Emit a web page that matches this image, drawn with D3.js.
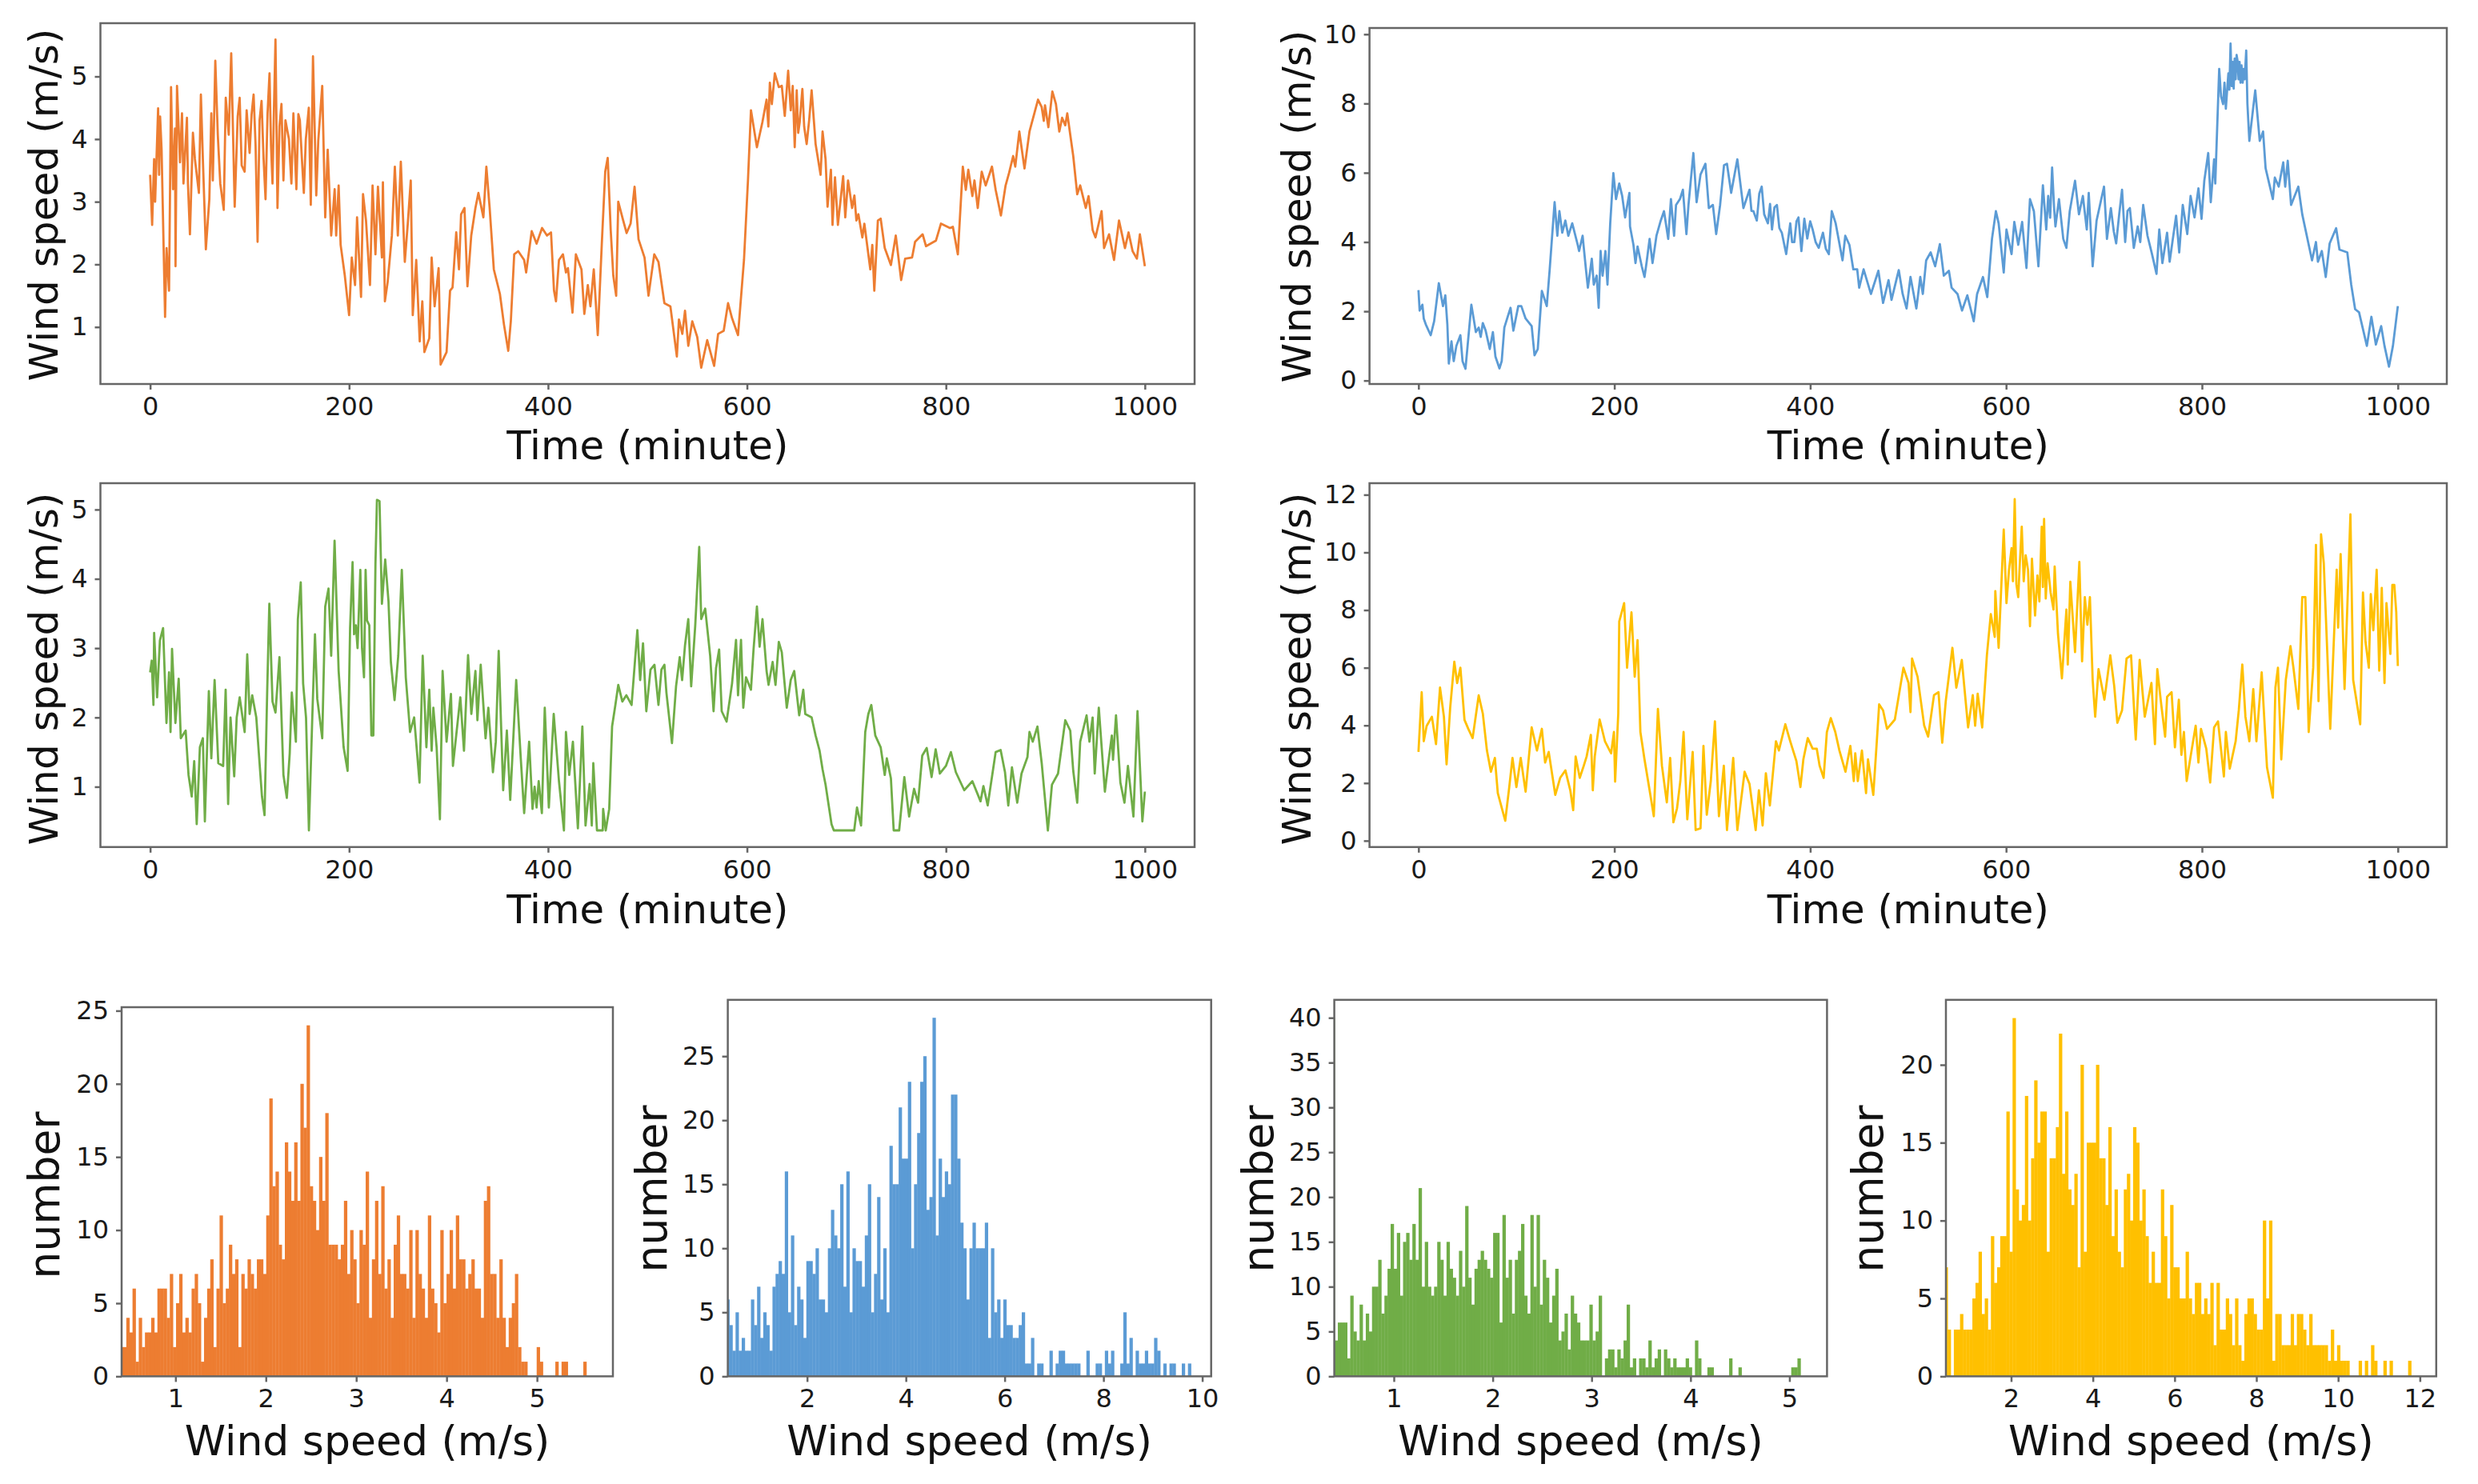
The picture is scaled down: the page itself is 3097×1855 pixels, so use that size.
<!DOCTYPE html>
<html>
<head>
<meta charset="utf-8">
<script src="https://cdn.jsdelivr.net/npm/d3@7"></script>
<style>
  html, body { margin: 0; background: #fff; }
  svg { display: block; font-family: "DejaVu Sans", sans-serif; }
</style>
</head>
<body>
<svg id="graph" width="3097" height="1855"></svg>
<script>
// Wind speed traces, [minute, m/s]
const orangeSpeed = [[0,3.43],[2,2.63],[4,3.68],[5,3.0],[8,4.49],[9,3.43],[10,4.36],[11.5,3.83],[15,1.16],[16.5,2.26],[19,1.58],[21,4.83],[23,3.2],[25,4.17],[25.5,1.97],[27,4.85],[30,3.63],[32,4.41],[33.5,3.29],[37,4.34],[38,3.29],[40,2.48],[43,4.1],[45,3.68],[49,3.14],[51,4.71],[53,3.68],[56,2.24],[59.5,3.04],[61.5,4.41],[63,3.34],[65.5,5.25],[68,4.07],[70.5,3.29],[74,2.87],[76,4.66],[79,4.07],[81.5,5.37],[85,2.92],[88,4.36],[90,4.66],[92,3.58],[95,3.48],[97,4.46],[100,3.78],[102,4.4],[104,4.71],[106,3.9],[108,2.36],[110,4.3],[112,4.61],[114,3.7],[116,3.04],[118,4.4],[120,5.05],[121.5,3.9],[123,3.29],[124.5,4.5],[126,5.59],[128,2.9],[130,4.2],[132,4.56],[134,3.34],[136,4.3],[137.5,4.17],[139.5,4.0],[142,3.29],[144,4.41],[145.5,3.8],[147,3.2],[149,4.4],[150.5,4.3],[152.5,3.7],[154.5,3.14],[156.5,4.0],[159.5,4.5],[161.5,2.95],[163.7,5.32],[167,3.1],[169,3.97],[173,4.85],[176,2.75],[178.5,3.83],[182,2.46],[185.5,3.2],[187,2.46],[189.5,3.26],[191.5,2.31],[195.7,1.82],[200,1.19],[202.7,2.11],[206,1.67],[208,2.75],[212,1.48],[214,3.12],[217,2.7],[221,1.67],[223.6,3.26],[226.5,2.16],[229,3.24],[233,2.11],[234,3.31],[236,1.41],[238.8,1.72],[243,2.46],[246,3.56],[249,2.46],[252,3.64],[256,2.04],[259,2.65],[262,3.34],[264,1.19],[267.5,2.07],[271,0.77],[273.6,1.41],[275.7,0.6],[280.6,0.82],[283,2.11],[286,1.33],[290,1.94],[292,0.4],[298,0.6],[301.5,1.58],[304,1.63],[307.7,2.51],[310.5,1.92],[312.6,2.8],[316,2.9],[319,1.65],[322.8,2.46],[327,2.9],[330,3.14],[335,2.75],[338,3.56],[341.3,2.9],[345.5,1.92],[351.6,1.53],[355.7,1.04],[360,0.62],[362.6,1.09],[366,2.16],[370,2.21],[376,2.07],[378,1.87],[383.6,2.53],[388.5,2.33],[394,2.58],[399,2.46],[403,2.51],[406,1.58],[408,1.41],[411,2.07],[415,2.16],[418,1.87],[420,1.94],[424.6,1.23],[428,2.16],[433.6,1.92],[436.5,1.21],[440,1.67],[442.6,1.33],[446,1.92],[450,0.87],[454,2.31],[457.5,3.48],[460,3.7],[463,2.55],[465.6,1.82],[468.5,1.5],[470.6,3.0],[474.7,2.75],[479,2.5],[483,2.65],[487,3.24],[491,2.4],[497,2.11],[501,1.5],[506.8,2.16],[511,2.04],[517,1.38],[523,1.33],[529.5,0.53],[531.6,1.12],[535,0.89],[537.7,1.26],[541,0.7],[545,1.09],[550,0.84],[554,0.35],[560,0.79],[567,0.38],[571,0.89],[576.6,0.94],[581,1.38],[585,1.14],[591,0.87],[597,2.07],[601,3.34],[604,4.46],[610,3.87],[615.5,4.27],[619.7,4.63],[621.5,4.2],[623,4.9],[625,4.56],[628,5.05],[632,4.83],[635,4.85],[638,4.37],[641.4,5.09],[644,4.46],[646,4.85],[648,3.87],[650,4.78],[651.5,4.1],[653,4.27],[655.7,4.8],[657.5,4.2],[660,3.92],[662.5,4.3],[665,4.78],[669,3.92],[674,3.43],[676,4.12],[679,3.68],[681,2.92],[684.4,3.51],[686,2.63],[688.5,3.39],[691.4,2.63],[696.7,3.41],[698.8,2.75],[701.6,3.34],[705.7,2.9],[708,3.1],[710,2.7],[712,2.8],[716,2.43],[718,2.65],[724,1.92],[726,2.31],[728,1.58],[731.6,2.7],[734.4,2.73],[738.5,2.26],[744.7,1.99],[749.6,2.46],[755,1.75],[759,2.09],[766,2.11],[769,2.36],[776.6,2.48],[780,2.29],[790,2.38],[795,2.65],[804,2.58],[807,2.6],[812,2.16],[817,3.56],[820,3.19],[822.5,3.51],[826.6,3.09],[828.7,3.34],[832,2.9],[836,3.48],[840,3.26],[846.3,3.56],[850,3.19],[855.3,2.78],[860,3.26],[863.5,3.46],[867.6,3.73],[869.7,3.56],[873.8,4.12],[879,3.53],[884,4.12],[892.6,4.63],[896.3,4.51],[898.4,4.29],[899.6,4.54],[903,4.19],[907,4.76],[910.6,4.56],[914,4.12],[916.8,4.34],[920,4.22],[922,4.41],[928,3.73],[932,3.12],[935,3.26],[940.6,2.9],[943.4,3.09],[947.5,2.55],[950.4,2.43],[956.5,2.85],[959,2.26],[964,2.48],[969,2.07],[974,2.7],[980,2.26],[983.6,2.51],[987.7,2.21],[992,2.09],[995,2.48],[1000,1.97]];
const blueSpeed = [[0,2.61],[1.2,2.02],[4,2.19],[5.4,1.79],[7.5,1.62],[12.5,1.31],[16,1.71],[20.8,2.81],[25,2.15],[27.4,2.46],[29.5,1.62],[31,0.49],[33.7,1.13],[36,0.56],[38.7,1.0],[42.8,1.31],[45,0.56],[48,0.34],[51,1.26],[54,2.19],[58.6,1.4],[61.5,1.53],[63.6,1.26],[65.7,1.66],[68.6,1.44],[72.8,0.91],[76,1.4],[78.6,0.69],[82.7,0.35],[85,0.56],[87.7,1.53],[91.5,1.88],[94,2.1],[96.9,1.44],[101.9,2.15],[105,2.15],[109.4,1.79],[115.6,1.57],[118.5,0.73],[121.8,0.91],[126,2.59],[131,2.15],[134,3.21],[139,5.15],[141.8,4.18],[143.9,4.89],[146.8,4.27],[150,4.62],[153,4.18],[157,4.54],[162.6,3.92],[164,3.74],[167.6,4.18],[171,3.21],[173,2.68],[177,3.52],[179,2.77],[182,3.03],[184,2.1],[186,3.74],[188,3.03],[190.9,3.74],[193,2.77],[195.8,4.54],[199,5.99],[201.7,5.24],[205,5.69],[208,5.33],[211,4.71],[215.4,5.42],[216,4.45],[219.5,3.92],[221.6,3.39],[223.7,3.87],[228,3.3],[230.8,2.99],[233,3.43],[236,4.09],[239,3.39],[243,4.18],[247.4,4.62],[250.7,4.89],[255,4.09],[257.8,5.24],[261,4.18],[263,5.07],[267,5.24],[270,5.51],[273.6,4.23],[275.7,5.07],[280.7,6.57],[284,5.15],[288,5.95],[293,6.26],[296.5,4.98],[300.6,5.07],[304,4.23],[308,5.07],[312,6.22],[315,6.26],[319.3,5.42],[325.6,6.39],[331.8,4.98],[338,5.51],[340,4.9],[342,4.89],[345.5,4.62],[348,5.4],[350.5,5.6],[353,4.8],[356.8,4.54],[359,5.1],[361,4.36],[363.5,5.0],[366,5.07],[368.5,4.4],[371,4.27],[375.5,3.65],[379.6,4.54],[381.5,4.0],[383.8,4.0],[386,4.6],[388,4.71],[391,3.74],[394,4.67],[397,4.1],[400,4.6],[402.5,4.36],[405.5,4.0],[408.7,3.83],[413,4.27],[416,3.8],[419,3.65],[422,4.89],[426,4.54],[433,3.47],[435.8,4.18],[440,3.92],[444,3.21],[448,3.21],[450,2.68],[454.5,3.21],[462,2.5],[469.6,3.17],[474.4,2.24],[480,2.9],[483,2.33],[490.4,3.19],[494.4,2.5],[498.4,2.08],[502.4,2.99],[508.4,2.08],[512.4,2.99],[515,2.5],[518.4,3.47],[523,3.7],[527.6,3.3],[532.4,3.94],[536.4,3.03],[541.6,3.17],[544.4,2.68],[550.4,2.5],[555,2.02],[560.4,2.46],[567,1.71],[570.4,2.5],[576.4,2.99],[580.8,2.41],[585.6,4.09],[589.6,4.89],[592.4,4.54],[597.6,3.12],[600.4,4.36],[605.6,3.65],[608.4,4.58],[612.4,3.92],[616.4,4.58],[620.8,3.25],[624.4,5.24],[628.4,4.89],[633,3.3],[637.6,5.64],[641,4.36],[643,5.33],[645,4.7],[647,6.15],[649,5.0],[650.4,4.45],[654,5.24],[658.4,4.09],[661.6,3.83],[665,4.89],[670.4,5.77],[674.4,4.8],[678.4,5.33],[682.4,4.36],[684.4,5.42],[688.4,3.3],[692.4,4.62],[700,5.6],[703,4.09],[707,4.98],[710,4.3],[712.4,3.96],[715.5,4.8],[718.4,5.51],[721.6,4.0],[724,4.9],[726.4,4.98],[730.4,3.83],[734.4,4.45],[737,4.0],[740,5.07],[744.4,4.18],[749,3.65],[753.6,3.08],[756.4,4.36],[759.6,3.39],[764.4,4.27],[767,3.43],[773.6,4.76],[776.8,3.7],[780.4,5.07],[785,4.23],[788.4,5.33],[792.4,4.71],[796.4,5.55],[799.6,4.67],[802.4,5.77],[806.4,6.57],[809,5.15],[812.4,6.39],[813.6,5.69],[817.6,9.0],[819.5,8.2],[821.6,7.98],[823,8.6],[824.4,7.85],[826,8.5],[827,8.87],[828,8.4],[829.2,9.73],[830.4,8.5],[831.4,9.2],[832.4,8.43],[833.4,9.3],[834.4,8.7],[835.4,9.4],[836.4,9.22],[837.4,8.7],[838.4,9.2],[839.4,8.6],[840.4,9.1],[841.6,8.6],[842.6,9.0],[843.6,8.7],[845.2,9.53],[846.4,8.0],[848.4,6.92],[854.4,8.38],[859,6.92],[862.4,7.19],[865,6.13],[872.4,5.24],[874.4,5.86],[878.4,5.6],[883,6.3],[885,5.6],[887.6,6.35],[891,5.07],[898.4,5.6],[902.4,4.8],[908.4,4.0],[912.4,3.47],[916.4,4.0],[918.4,3.43],[922.4,3.74],[926.4,2.99],[930.4,3.96],[937,4.4],[940.4,3.78],[948.4,3.7],[952.4,2.77],[956.4,2.06],[960.4,1.97],[968.4,1.0],[973,1.84],[977.6,1.04],[983,1.57],[986.4,1.0],[991,0.4],[995,1.0],[1000,2.15]];
const greenSpeed = [[0,2.65],[1.6,2.82],[3.3,2.18],[4,3.22],[7,2.29],[9.8,3.11],[13,3.29],[16.4,1.92],[19,2.65],[20.5,1.79],[22,2.99],[25.4,1.92],[28.7,2.56],[30.8,1.7],[35.7,1.81],[38.6,1.17],[41.8,0.86],[44.3,1.37],[46.8,0.46],[50,1.57],[53,1.7],[55,0.5],[59,2.38],[61.5,1.41],[64.8,2.54],[68.5,1.34],[73.4,1.3],[75.9,2.4],[78.4,0.75],[80.8,2.0],[84.5,1.15],[87,2.0],[90,2.29],[95,1.79],[97.6,2.91],[100,2.05],[102.6,2.32],[106.7,2.0],[110,1.34],[112.4,0.86],[115,0.59],[117.7,2.4],[119.8,3.64],[123,2.23],[126,2.07],[130,2.87],[134,1.17],[137.4,0.84],[140.3,1.48],[142.4,2.36],[146.5,1.65],[148.5,3.42],[151.4,3.95],[153.8,2.49],[156.7,2.0],[159.6,0.37],[163,2.0],[165.7,3.2],[168,2.27],[173,1.7],[176,3.6],[179.3,3.86],[182,2.89],[185.4,4.55],[189.5,2.67],[194.5,1.57],[198.5,1.23],[201,3.29],[203.5,4.24],[205,3.2],[206.8,3.33],[208.5,3.0],[211.3,4.13],[213,3.0],[215,2.58],[216.6,4.13],[218,3.4],[220.3,3.33],[222.4,1.74],[224.4,1.74],[226.5,4.21],[228,5.14],[230.6,5.12],[233,3.64],[236.3,4.28],[239.6,3.68],[242,2.8],[245.7,2.25],[249.4,2.89],[253,4.13],[257,2.58],[261.3,1.79],[265.4,2.0],[270.8,1.06],[274,2.89],[277.7,1.57],[280.6,2.4],[283,1.52],[284.7,2.14],[288,1.57],[291.3,0.53],[294,2.67],[298,1.65],[302.4,2.34],[304.4,1.3],[311.8,2.29],[315.5,1.52],[319.6,2.9],[322.9,2.05],[327,2.67],[329,1.96],[332.3,2.76],[337.2,1.7],[340,2.14],[344.6,1.21],[347.5,1.65],[350.4,2.96],[354.9,0.95],[358.6,1.81],[362,0.81],[368,2.54],[372.5,1.43],[376,0.62],[381,1.65],[384.4,0.68],[386.5,1.0],[388.5,0.7],[390.6,1.08],[393.8,0.62],[396.7,2.14],[400.8,0.7],[405.7,2.05],[411,1.08],[416,0.37],[418,1.79],[421.3,1.17],[425,1.65],[430,0.4],[434.5,1.87],[437.7,0.44],[441.8,1.04],[444,0.44],[445.5,1.34],[449.2,0.37],[455,0.37],[455.4,0.68],[458,0.37],[461.5,0.68],[464.4,1.87],[467.7,2.18],[470.6,2.47],[474.7,2.23],[478.8,2.32],[484,2.18],[489.8,3.26],[492.6,2.54],[495.5,3.07],[498.8,2.09],[503,2.69],[507,2.76],[511,2.18],[514,2.69],[517,2.76],[519,2.36],[524.6,1.63],[528.7,2.45],[532.4,2.87],[534.8,2.54],[537.7,3.04],[541,3.42],[543.9,2.45],[548,3.33],[552,4.46],[554,3.42],[558,3.57],[563,2.89],[566.4,2.09],[568.9,2.71],[572,2.98],[574.6,2.09],[579.5,1.94],[585,2.49],[589,3.12],[591,2.32],[594,3.12],[596.3,2.14],[599,2.58],[604,2.4],[606.6,2.98],[610,3.6],[612.7,3.02],[615.6,3.42],[619.7,2.67],[621.7,2.47],[625.8,2.8],[628.7,2.47],[632,3.09],[635,2.94],[640,2.14],[644,2.54],[647.5,2.67],[652.5,2.03],[656.6,2.4],[658.6,2.05],[665,2.0],[669,1.74],[673,1.52],[676,1.25],[679,1.03],[685,0.46],[687.3,0.37],[707.8,0.37],[710.6,0.7],[714.7,0.44],[718.9,1.79],[722,2.05],[725,2.18],[729,1.74],[734.4,1.57],[738.5,1.17],[740.6,1.41],[744.7,1.12],[747.5,0.37],[753,0.37],[758.2,1.14],[763,0.57],[768,0.97],[772,0.77],[776.2,1.45],[780.7,1.56],[785.6,1.14],[789.7,1.54],[793.9,1.19],[800,1.3],[805,1.5],[810,1.21],[818.4,0.95],[826.6,1.08],[834.8,0.79],[837.7,1.01],[842,0.73],[847,1.21],[850,1.5],[855,1.53],[859.4,1.21],[862.7,0.73],[866.4,1.28],[871.7,0.77],[876,1.19],[882,1.43],[884,1.79],[887.3,1.65],[892,1.87],[896.3,1.34],[902.5,0.37],[906.6,1.03],[912.7,1.19],[920,1.96],[925,1.81],[928,1.23],[932,0.77],[935,1.65],[941.4,2.03],[944.3,1.65],[947.5,2.0],[949.6,1.19],[953.7,2.14],[959.8,0.93],[964,1.43],[966.8,1.74],[968,1.39],[971,2.03],[975.4,1.06],[979.5,0.77],[983,1.3],[988.5,0.57],[992.6,2.09],[997.5,0.5],[1000,0.93]];
const yellowSpeed = [[0,3.08],[3.3,5.15],[5.4,3.45],[8.3,3.98],[13.7,4.3],[17.9,3.35],[22,5.31],[26,4.3],[28.7,2.65],[32.4,4.62],[36.6,6.21],[39.5,5.47],[42.8,6.0],[47,4.19],[51,3.87],[55.3,3.56],[61.5,5.04],[65.7,4.41],[69.9,3.13],[74,2.39],[78,2.87],[81,1.65],[88.6,0.69],[92.7,1.86],[96,2.87],[100,1.86],[104.4,2.87],[109.4,1.7],[115.6,3.93],[121,3.13],[126,3.88],[129.3,2.71],[133,3.08],[139.7,1.59],[144.7,2.18],[150,2.44],[155,1.75],[158,1.06],[160.5,2.92],[164.7,2.18],[168.8,2.6],[171.7,2.92],[176,3.67],[178,1.75],[180,2.92],[185,4.2],[190.4,3.45],[196.7,3.03],[199.6,3.77],[200.8,2.05],[204,4.41],[205,7.6],[210,8.24],[213,6.0],[217.5,7.92],[220.8,5.69],[223.7,6.96],[226.6,3.77],[230.8,2.82],[236,1.75],[240.3,0.85],[244.5,4.57],[248.6,2.6],[253.6,1.33],[257,2.87],[260.3,0.64],[264,1.12],[267.4,2.07],[270.7,3.77],[274.5,0.74],[280,3.08],[283,0.37],[288,0.43],[291,3.29],[294.4,0.9],[298.5,2.07],[302.7,4.14],[306.8,0.85],[311.8,2.6],[315,0.37],[321.4,2.87],[325.6,0.37],[333,2.39],[338,1.97],[344.3,0.37],[347.6,1.75],[351.4,0.53],[354.7,2.34],[358.8,1.22],[365,3.45],[368,3.13],[374.6,4.04],[379.6,3.45],[385.9,2.76],[390,1.86],[393,2.82],[397.5,3.56],[402.5,3.19],[406.7,3.19],[409.6,2.6],[413.7,2.18],[417,3.77],[421,4.25],[425.6,3.77],[429.8,3.13],[436,2.39],[441,3.29],[444.5,2.07],[446,3.03],[448.6,2.07],[452.8,3.13],[457,1.65],[459,2.82],[464.4,1.59],[468,3.45],[470.4,4.73],[474.4,4.52],[478.4,3.88],[486.4,4.2],[495.2,6.0],[500.4,5.47],[502.4,4.46],[504,6.32],[509.6,5.69],[516.4,3.99],[520.4,3.61],[526.4,5.05],[531,5.15],[534.8,3.4],[538.4,4.84],[545.2,6.69],[549.2,5.31],[554.8,6.27],[561.2,3.93],[566,5.05],[568.4,3.99],[571,5.1],[575.6,3.93],[580.4,6.43],[584.4,7.86],[588.4,7.07],[589,8.66],[592.4,6.69],[597.6,10.79],[600.4,8.24],[603,9.4],[605.6,10.15],[607,9.0],[608.8,11.85],[610.5,8.9],[612.4,8.45],[614,9.6],[616,10.89],[618,9.0],[620,9.9],[622.4,9.4],[624.4,7.44],[626.4,9.78],[629.6,7.81],[632,9.2],[634,8.3],[636.4,10.89],[637.6,8.8],[638.8,11.16],[640.5,8.4],[642.4,9.62],[645.5,8.6],[648.4,8.02],[649.6,9.51],[653,7.17],[657,5.63],[661.6,8.02],[663,6.11],[665.6,8.98],[670.4,6.54],[674.8,9.67],[677.6,6.22],[680.4,8.45],[683,7.49],[685.6,8.45],[688.4,5.58],[691,4.3],[694.4,5.95],[700.4,4.89],[706.4,6.43],[710.4,5.37],[713.6,4.09],[718.4,4.52],[723,6.32],[727.6,6.43],[732.4,3.51],[736.4,6.27],[741.6,4.3],[748.4,5.47],[752,3.35],[754.4,5.95],[758.4,4.73],[762.4,3.61],[764.4,4.99],[769,5.15],[772.4,3.24],[776.4,4.89],[779,2.98],[781.6,3.77],[784.4,2.07],[788.4,2.92],[793.6,3.99],[796.4,2.71],[799,3.88],[804.4,3.19],[808.4,2.02],[812.4,3.93],[816.4,4.14],[822.4,2.23],[824.4,3.77],[828.4,2.5],[834.4,3.45],[837.6,4.52],[841.2,6.11],[844.4,4.3],[848.4,3.45],[852.4,5.26],[855.6,3.45],[861,5.84],[866.4,2.55],[872.4,1.49],[875,5.31],[877.6,6.0],[881,2.82],[885.6,5.58],[890.4,6.75],[893.4,6.0],[898.4,4.57],[902.4,8.45],[905.6,8.45],[909,3.77],[913.6,6.0],[916.4,10.26],[919,4.84],[921.6,10.63],[924.4,9.62],[931,3.88],[937.6,9.4],[939,7.39],[941.6,9.94],[945.6,5.26],[951.6,11.32],[954.4,5.58],[961.6,4.04],[964.4,8.61],[967,6.9],[970.4,6.0],[972.4,8.55],[975,7.3],[978.4,9.4],[981,5.9],[983.6,8.77],[986.4,5.47],[988.4,8.24],[992.4,6.48],[994.4,8.87],[996.4,8.87],[998.4,7.92],[1000,6.06]];

// Histogram counts, one value per bin, left to right
const orangeCounts = [2,2,4,3,6,1,4,2,3,3,4,3,6,6,6,4,7,2,5,7,3,4,3,6,7,5,1,4,6,8,2,6,11,5,6,9,7,8,2,7,6,8,7,6,8,8,7,11,19,13,14,9,8,16,14,12,16,12,20,17,24,13,12,10,15,12,18,9,9,9,8,9,12,7,10,8,5,10,9,14,4,8,12,7,13,6,8,4,9,11,7,7,6,10,4,10,7,6,4,11,6,5,3,10,5,7,10,6,11,8,8,6,7,8,6,6,4,12,13,7,7,4,8,4,2,4,5,7,2,1,1,0,0,0,2,1,0,0,0,0,1,0,1,1,0,0,0,0,0,1];
const blueCounts = [6,4,2,5,2,3,2,2,6,4,7,3,5,4,2,7,8,9,8,16,5,11,4,7,6,3,9,9,8,10,6,6,5,10,13,11,10,15,7,16,5,10,9,9,7,11,15,5,8,14,6,10,5,18,15,15,21,17,17,23,10,15,19,23,25,13,14,28,11,17,14,16,15,22,22,17,12,10,6,10,12,10,10,10,12,3,10,5,6,3,6,4,4,3,3,4,5,1,1,3,0,1,1,0,0,2,0,1,2,2,1,1,1,1,1,0,0,2,0,0,1,1,0,2,1,2,0,0,1,5,1,3,0,2,1,1,2,1,1,3,2,0,1,0,1,1,0,0,1,0,1];
const greenCounts = [40,4,6,6,6,2,9,5,4,8,4,7,5,10,10,13,7,9,12,17,12,16,9,15,16,13,17,13,21,10,15,10,9,10,15,13,9,15,12,11,9,14,10,19,11,8,12,13,14,13,12,11,16,16,6,18,11,13,7,13,14,17,9,7,18,10,18,8,13,11,6,9,12,4,5,7,3,9,7,6,4,4,4,8,4,5,9,0,2,3,3,1,3,2,4,8,1,2,0,2,2,1,4,1,2,3,0,3,2,1,2,1,1,1,2,1,0,4,2,0,0,1,1,0,0,0,0,0,2,0,0,1,0,0,0,0,0,0,0,0,0,0,0,0,0,0,0,0,1,1,2];
const yellowCounts = [7,3,0,3,3,4,3,3,3,5,6,8,4,5,3,9,6,7,9,9,17,8,23,12,10,11,18,10,14,19,15,17,17,8,14,14,16,22,13,17,12,11,13,7,20,8,15,15,15,20,14,14,11,16,9,12,8,7,12,13,10,16,15,10,12,9,6,8,6,6,12,9,5,11,7,7,5,5,8,5,4,6,6,4,5,4,6,2,6,3,3,5,4,2,5,2,1,4,5,5,4,3,3,10,5,10,1,4,4,2,2,2,4,2,4,4,3,2,4,2,2,2,2,2,1,3,1,2,1,1,1,0,0,0,1,0,1,0,2,1,0,0,1,0,1,0,0,0,0,0,1];

// Tick labels
const timeTicks = [0, 200, 400, 600, 800, 1000];
const orangeSpeedTicks = [1, 2, 3, 4, 5];
const blueSpeedTicks = [0, 2, 4, 6, 8, 10];
const greenSpeedTicks = [1, 2, 3, 4, 5];
const yellowSpeedTicks = [0, 2, 4, 6, 8, 10, 12];
const orangeHistXTicks = [1, 2, 3, 4, 5];
const blueHistXTicks = [2, 4, 6, 8, 10];
const greenHistXTicks = [1, 2, 3, 4, 5];
const yellowHistXTicks = [2, 4, 6, 8, 10, 12];
const orangeHistYTicks = [0, 5, 10, 15, 20, 25];
const blueHistYTicks = [0, 5, 10, 15, 20, 25];
const greenHistYTicks = [0, 5, 10, 15, 20, 25, 30, 35, 40];
const yellowHistYTicks = [0, 5, 10, 15, 20];

const ORANGE = "#ED7D31", BLUE = "#5B9BD5", GREEN = "#70AD47", YELLOW = "#FFC000";
const FRAME = "#666";

const svg = d3.select("#graph");

/**
 * Axes box with frame, ticks and labels. Returns the scales.
 */
const drawAxes = (p) => {
  const x = d3.scaleLinear().domain(p.xDomain).range([p.left, p.right]);
  const y = d3.scaleLinear().domain(p.yDomain).range([p.bottom, p.top]);

  const xAxis = svg.append("g")
    .attr("transform", `translate(0, ${p.bottom})`)
    .call(d3.axisBottom(x).tickValues(p.xTicks).tickFormat(d3.format("d")).tickSize(7).tickPadding(9));
  const yAxis = svg.append("g")
    .attr("transform", `translate(${p.left}, 0)`)
    .call(d3.axisLeft(y).tickValues(p.yTicks).tickFormat(d3.format("d")).tickSize(7).tickPadding(9));

  [xAxis, yAxis].forEach(a => {
    a.select(".domain").remove();
    a.selectAll(".tick line").attr("stroke", FRAME).attr("stroke-width", 2.5);
    a.selectAll(".tick text")
      .attr("fill", "#1a1a1a")
      .style("font-family", '"DejaVu Sans", sans-serif')
      .style("font-size", "32px");
  });

  // X - Axis Label
  svg.append("text")
    .attr("x", (p.left + p.right) / 2)
    .attr("y", p.xLabelY)
    .attr("text-anchor", "middle")
    .attr("fill", "#111")
    .style("font-size", p.xLabelSize + "px")
    .text(p.xLabel);

  // Y - Axis Label
  svg.append("text")
    .attr("transform", `translate(${p.yLabelX}, ${p.yLabelMid}) rotate(-90)`)
    .attr("text-anchor", "middle")
    .attr("fill", "#111")
    .style("font-size", p.yLabelSize + "px")
    .text(p.yLabel);

  return {x, y};
};

const drawFrame = (p) => {
  svg.append("rect")
    .attr("x", p.left).attr("y", p.top)
    .attr("width", p.right - p.left).attr("height", p.bottom - p.top)
    .attr("fill", "none")
    .attr("stroke", FRAME)
    .attr("stroke-width", 2.5);
};

const drawTrace = (p) => {
  const {x, y} = drawAxes({...p, xDomain: [-50, 1050], xTicks: timeTicks,
    xLabel: "Time (minute)", xLabelSize: 49.8, yLabel: "Wind speed (m/s)", yLabelSize: 50.2});

  const line = d3.line().x(d => x(d[0])).y(d => y(d[1]));

  svg.append("path")
    .datum(p.data)
    .attr("fill", "none")
    .attr("stroke", p.color)
    .attr("stroke-width", 2.8)
    .attr("stroke-linejoin", "round")
    .attr("d", line);

  drawFrame(p);
};

let clipCount = 0;
const drawHist = (p) => {
  const {x, y} = drawAxes({...p, xLabel: "Wind speed (m/s)", xLabelSize: 52,
    xLabelY: 1818.5, yLabel: "number", yLabelSize: 53.5});

  const clipId = "clip" + (clipCount++);
  svg.append("clipPath").attr("id", clipId)
    .append("rect")
    .attr("x", p.left).attr("y", p.top)
    .attr("width", p.right - p.left).attr("height", p.bottom - p.top);

  // Bars a little wider than the bin, so only faint seams stay between them
  svg.append("g")
    .attr("clip-path", `url(#${clipId})`)
    .selectAll("rect")
    .data(p.data)
    .join("rect")
    .attr("x", (d, i) => x(p.binStart + i * p.binWidth))
    .attr("width", x(p.binWidth) - x(0) + 0.35)
    .attr("y", d => y(d))
    .attr("height", d => y(0) - y(d))
    .attr("fill", p.color);

  drawFrame(p);
};

// Top left, top right
drawTrace({data: orangeSpeed, color: ORANGE, left: 125.5, right: 1493, top: 29, bottom: 480,
  yDomain: [0.09, 5.85], yTicks: orangeSpeedTicks, xLabelY: 574, yLabelX: 71.5, yLabelMid: 256});
drawTrace({data: blueSpeed, color: BLUE, left: 1711.6, right: 3058, top: 35, bottom: 480,
  yDomain: [-0.1, 10.18], yTicks: blueSpeedTicks, xLabelY: 574, yLabelX: 1637.6, yLabelMid: 258});

// Middle row
drawTrace({data: greenSpeed, color: GREEN, left: 125.5, right: 1493, top: 604, bottom: 1058.8,
  yDomain: [0.13, 5.38], yTicks: greenSpeedTicks, xLabelY: 1154, yLabelX: 71.5, yLabelMid: 836});
drawTrace({data: yellowSpeed, color: YELLOW, left: 1711.6, right: 3058, top: 604, bottom: 1058.8,
  yDomain: [-0.22, 12.4], yTicks: yellowSpeedTicks, xLabelY: 1154, yLabelX: 1637.6, yLabelMid: 836});

// Histograms
drawHist({data: orangeCounts, color: ORANGE, left: 152, right: 766, top: 1259, bottom: 1720.4,
  xDomain: [0.404, 5.84], yDomain: [0, 25.24], xTicks: orangeHistXTicks, yTicks: orangeHistYTicks,
  binStart: 0.387, binWidth: 0.0344, yLabelX: 74, yLabelMid: 1494});
drawHist({data: blueCounts, color: BLUE, left: 909.6, right: 1513.7, top: 1249.8, bottom: 1720.4,
  xDomain: [0.395, 10.18], yDomain: [0, 29.4], xTicks: blueHistXTicks, yTicks: blueHistYTicks,
  binStart: 0.365, binWidth: 0.0623, yLabelX: 832.5, yLabelMid: 1486});
drawHist({data: greenCounts, color: GREEN, left: 1667.6, right: 2283.4, top: 1249.8, bottom: 1720.4,
  xDomain: [0.398, 5.38], yDomain: [0, 42], xTicks: greenHistXTicks, yTicks: greenHistYTicks,
  binStart: 0.371, binWidth: 0.0314, yLabelX: 1591, yLabelMid: 1486});
drawHist({data: yellowCounts, color: YELLOW, left: 2432, right: 3044.8, top: 1249.8, bottom: 1720.4,
  xDomain: [0.405, 12.4], yDomain: [0, 24.17], xTicks: yellowHistXTicks, yTicks: yellowHistYTicks,
  binStart: 0.372, binWidth: 0.0756, yLabelX: 2353, yLabelMid: 1486});
</script>
</body>
</html>
